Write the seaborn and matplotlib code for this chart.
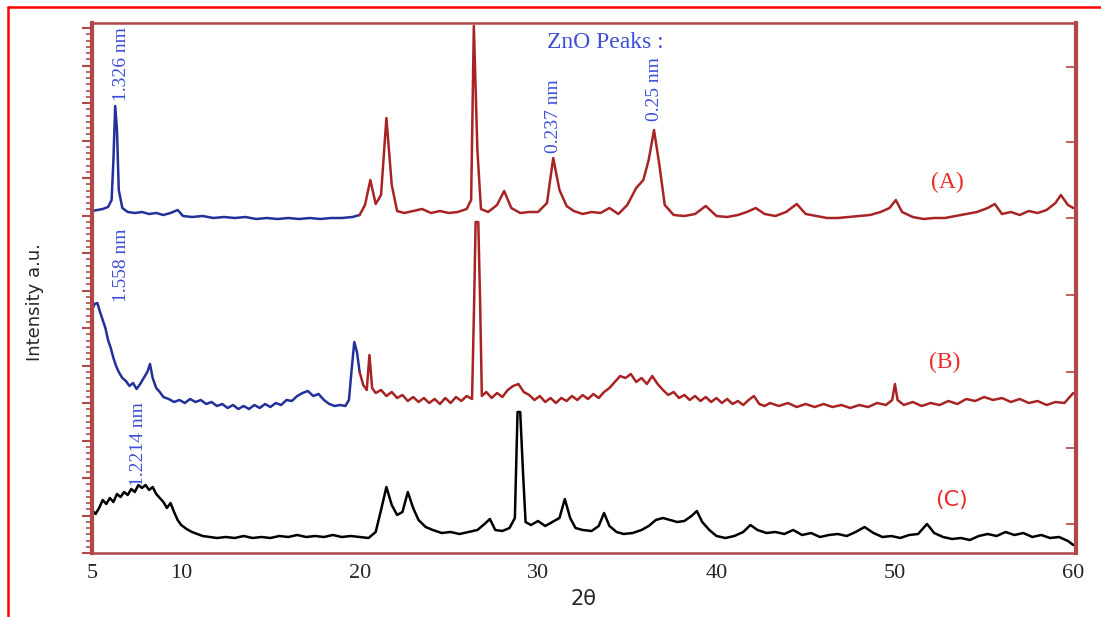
"""
XRD patterns (A), (B), (C) with ZnO peak annotations
"""

import numpy as np
import pandas as pd
import matplotlib
matplotlib.use("Agg")
import matplotlib.pyplot as plt
from matplotlib.lines import Line2D
from matplotlib.ticker import MultipleLocator, FixedLocator
import seaborn as sns

sns.set_style("white")
plt.rcParams["font.family"] = ["Liberation Serif", "DejaVu Serif"]

# ---- data (2-theta in degrees, intensity in a.u.) ----
a_blue_2theta = [5.0, 5.3, 5.6, 5.9, 6.1, 6.2, 6.3, 6.4, 6.5, 6.7, 7.0, 7.4, 7.8, 8.2, 8.6,
                 9.0, 9.4, 9.8, 10.1, 10.6, 11.2, 11.8, 12.4, 13.0, 13.6, 14.2, 14.8,
                 15.4, 16.0, 16.6, 17.2, 17.8, 18.4, 19.0, 19.6, 20.0]
a_blue_int = [342, 343, 344, 346, 353, 393, 447, 423, 363, 345, 341, 340, 341, 339, 340,
              338, 340, 343, 337, 336, 337, 335, 336, 335, 336, 334, 335,
              334, 335, 334, 335, 334, 335, 335, 336, 338]

a_red_2theta = [20.0, 20.3, 20.6, 20.9, 21.2, 21.5, 21.8, 22.1, 22.5, 23.0, 23.5, 24.0,
                24.5, 25.0, 25.5, 26.0, 26.25, 26.4, 26.6, 26.8, 27.2, 27.7, 28.1, 28.5,
                29.0, 29.5, 30.0, 30.5, 30.85, 31.2, 31.6, 32.0, 32.5, 33.0, 33.5, 34.0,
                34.5, 35.0, 35.5, 35.9, 36.2, 36.5, 36.8, 37.1, 37.6, 38.2, 38.8, 39.4,
                40.0, 40.6, 41.2, 41.7, 42.2, 42.7, 43.3, 43.9, 44.5, 45.0, 45.6, 46.2,
                46.8, 47.4, 48.0, 48.6, 49.2, 49.7, 50.05, 50.4, 51.0, 51.6, 52.2, 52.8,
                53.4, 54.0, 54.6, 55.2, 55.6, 56.0, 56.5, 57.0, 57.5, 58.0, 58.5, 59.0,
                59.3, 59.7, 60.0]
a_red_int = [338, 348, 373, 349, 358, 435, 368, 342, 340, 342, 344, 340,
             342, 340, 341, 344, 353, 527, 403, 344, 341, 348, 362, 345,
             340, 341, 341, 350, 395, 363, 347, 342, 339, 341, 340, 345,
             339, 348, 365, 373, 393, 423, 388, 348, 338, 337, 339, 347,
             337, 336, 338, 341, 345, 339, 337, 341, 349, 339, 337, 335,
             335, 336, 337, 338, 341, 345, 353, 341, 336, 334, 335, 335,
             337, 339, 341, 345, 349, 339, 341, 338, 342, 340, 343, 350,
             358, 348, 345]

b_blue_2theta = [5.0, 5.15, 5.3, 5.45, 5.6, 5.75, 5.9, 6.05, 6.2, 6.35, 6.5, 6.7, 6.9,
                 7.1, 7.3, 7.5, 7.7, 7.9, 8.1, 8.25, 8.4, 8.6, 8.8, 9.0, 9.3, 9.6, 9.9,
                 10.2, 10.5, 10.8, 11.1, 11.4, 11.7, 12.0, 12.3, 12.6, 12.9, 13.2, 13.5,
                 13.8, 14.1, 14.4, 14.7, 15.0, 15.3, 15.6, 15.9, 16.2, 16.5, 16.8, 17.1,
                 17.4, 17.7, 18.0, 18.3, 18.6, 18.9, 19.2, 19.4, 19.55, 19.7, 19.85, 20.0]
b_blue_int = [243, 249, 250, 241, 233, 225, 213, 205, 195, 187, 181, 175, 172,
              167, 170, 164, 169, 175, 181, 189, 175, 165, 161, 156, 154, 151, 153,
              150, 154, 151, 153, 149, 151, 147, 149, 145, 148, 144, 147,
              144, 148, 145, 149, 146, 150, 148, 153, 152, 157, 160, 162,
              157, 159, 153, 149, 147, 148, 147, 153, 183, 211, 201, 181]

b_red_2theta = [20.0, 20.2, 20.4, 20.55, 20.7, 20.9, 21.2, 21.5, 21.8, 22.1, 22.4, 22.7,
                23.0, 23.3, 23.6, 23.9, 24.2, 24.5, 24.8, 25.1, 25.4, 25.7, 26.0, 26.3,
                26.42, 26.5, 26.65, 26.75, 26.85, 27.1, 27.4, 27.7, 28.0, 28.3, 28.6,
                28.9, 29.2, 29.5, 29.8, 30.1, 30.4, 30.7, 31.0, 31.3, 31.6, 31.9, 32.2,
                32.5, 32.8, 33.1, 33.4, 33.7, 34.0, 34.3, 34.6, 34.9, 35.2, 35.5, 35.8,
                36.1, 36.4, 36.7, 37.0, 37.3, 37.6, 37.9, 38.2, 38.5, 38.8, 39.1, 39.4,
                39.7, 40.0, 40.3, 40.6, 40.9, 41.2, 41.5, 41.8, 42.1, 42.4, 42.7, 43.0,
                43.5, 44.0, 44.5, 45.0, 45.5, 46.0, 46.5, 47.0, 47.5, 48.0, 48.5, 49.0,
                49.5, 49.85, 50.0, 50.15, 50.5, 51.0, 51.5, 52.0, 52.5, 53.0, 53.5, 54.0,
                54.5, 55.0, 55.5, 56.0, 56.5, 57.0, 57.5, 58.0, 58.5, 59.0, 59.5, 59.8,
                60.0]
b_red_int = [181, 168, 163, 198, 165, 160, 163, 157, 161, 155, 158, 152,
             156, 151, 155, 150, 154, 149, 155, 150, 156, 152, 157, 154,
             253, 331, 331, 253, 157, 161, 155, 160, 156, 163, 167,
             169, 161, 158, 153, 157, 151, 155, 150, 155, 152, 157, 153,
             158, 154, 159, 155, 161, 165, 171, 177, 175, 179, 171, 175,
             169, 177, 169, 163, 158, 161, 155, 158, 153, 157, 152, 156,
             151, 155, 150, 154, 149, 152, 148, 153, 157, 149, 147, 150,
             147, 150, 146, 149, 146, 149, 146, 148, 145, 148, 146, 150,
             148, 153, 169, 153, 148, 151, 147, 150, 148, 152, 149, 154,
             152, 156, 153, 155, 151, 154, 150, 152, 148, 151, 150, 156,
             160]

c_2theta = [5.0, 5.2, 5.4, 5.6, 5.8, 6.0, 6.2, 6.4, 6.6, 6.8, 7.0, 7.2, 7.4, 7.6, 7.8,
            8.0, 8.2, 8.4, 8.6, 8.8, 9.0, 9.2, 9.4, 9.6, 9.8, 10.0, 10.3, 10.6, 10.9,
            11.2, 11.6, 12.0, 12.5, 13.0, 13.5, 14.0, 14.5, 15.0, 15.5, 16.0, 16.5,
            17.0, 17.5, 18.0, 18.5, 19.0, 19.5, 20.0, 20.5, 20.9, 21.2, 21.5, 21.8,
            22.1, 22.4, 22.7, 23.0, 23.3, 23.7, 24.1, 24.6, 25.1, 25.6, 26.1, 26.6,
            27.0, 27.3, 27.6, 28.0, 28.4, 28.7, 28.85, 29.0, 29.15, 29.3, 29.6, 30.0,
            30.4, 30.8, 31.2, 31.5, 31.8, 32.1, 32.5, 33.0, 33.4, 33.7, 34.0, 34.4,
            34.8, 35.3, 35.8, 36.2, 36.6, 37.0, 37.4, 37.8, 38.2, 38.6, 38.9, 39.2,
            39.6, 40.0, 40.5, 41.0, 41.5, 41.9, 42.3, 42.8, 43.3, 43.8, 44.3, 44.8,
            45.3, 45.8, 46.3, 46.8, 47.3, 47.8, 48.3, 48.8, 49.3, 49.8, 50.3, 50.8,
            51.3, 51.8, 52.2, 52.7, 53.2, 53.7, 54.2, 54.7, 55.2, 55.7, 56.2, 56.7,
            57.2, 57.7, 58.2, 58.7, 59.2, 59.7, 60.0]
c_int = [43, 39, 45, 53, 49, 55, 51, 59, 56, 61, 58, 64, 61, 68, 65,
         68, 63, 66, 59, 55, 51, 45, 50, 41, 33, 28, 24, 21, 19,
         17, 16, 15, 16, 15, 17, 15, 16, 15, 17, 16, 18,
         16, 17, 16, 18, 16, 17, 16, 15, 21, 43, 66, 48,
         38, 41, 61, 45, 33, 26, 23, 20, 21, 19, 21, 23,
         29, 34, 23, 22, 25, 35, 141, 141, 83, 31, 28, 32,
         27, 31, 35, 54, 35, 25, 23, 22, 27, 40, 27, 21,
         19, 20, 23, 27, 33, 35, 33, 31, 32, 37, 42, 31,
         23, 17, 15, 17, 21, 28, 23, 20, 21, 19, 23, 18,
         20, 16, 18, 19, 17, 21, 26, 20, 16, 17, 15, 18,
         19, 29, 20, 16, 14, 15, 13, 17, 19, 17, 21, 18,
         20, 16, 18, 15, 16, 12, 8]

x_ticks = [5, 10, 20, 30, 40, 50, 60]

# ---- colours ----
BLUE_LINE = "#23309a"
RED_LINE = "#a82424"
BLUE_TEXT = "#3d4fd6"
RED_TEXT = "#ec2a2a"
SPINE = "#b04848"

fig = plt.figure(figsize=(11.01, 6.17), dpi=100)
ax = fig.add_axes([92 / 1101, 64 / 617, 984 / 1101, 530 / 617])

segments = [
    (a_blue_2theta, a_blue_int, BLUE_LINE),
    (a_red_2theta, a_red_int, RED_LINE),
    (b_blue_2theta, b_blue_int, BLUE_LINE),
    (b_red_2theta, b_red_int, RED_LINE),
    (c_2theta, c_int, "black"),
]
for xs, ys, col in segments:
    df = pd.DataFrame({"two_theta": xs, "intensity": ys})
    sns.lineplot(data=df, x="two_theta", y="intensity", color=col, lw=1.8,
                 estimator=None, sort=False, ax=ax)

ax.set_xlim(5, 60.15)
ax.set_ylim(0, 530)
ax.set_xticks(x_ticks)
ax.xaxis.set_minor_locator(MultipleLocator(1))
ax.set_xticklabels([str(t) for t in x_ticks], fontsize=16)
ax.tick_params(axis="x", which="major", direction="out", length=4, color=SPINE, pad=4)
ax.tick_params(axis="x", which="minor", direction="out", length=2, color=SPINE)
ax.yaxis.set_major_locator(MultipleLocator(37.5))
ax.yaxis.set_minor_locator(MultipleLocator(6.25))
ax.tick_params(axis="y", which="major", direction="out", length=7, width=1.5,
               color=SPINE, labelleft=False)
ax.tick_params(axis="y", which="minor", direction="out", length=4, width=1.2, color=SPINE)
ax.set_xlabel("2θ", fontsize=15, family=["DejaVu Sans"], labelpad=4)
ax.set_ylabel("")

for side, w in [("left", 3.0), ("right", 3.0), ("top", 1.8), ("bottom", 1.8)]:
    ax.spines[side].set_visible(True)
    ax.spines[side].set_color(SPINE)
    ax.spines[side].set_linewidth(w)

# inward ticks on the right spine
ax2 = ax.twinx()
ax2.set_ylim(0, 530)
ax2.yaxis.set_major_locator(FixedLocator([29, 105, 181, 258, 335, 411, 486]))
ax2.tick_params(axis="y", direction="in", length=7, width=1.2, color=SPINE, labelright=False)
for s in ax2.spines.values():
    s.set_visible(False)

fig.text(35 / 1101, 1 - 302 / 617, "Intensity a.u.", rotation=90, ha="center", va="center",
         fontsize=13, family=["Liberation Sans Narrow", "DejaVu Sans"])

# peak labels
vlabels = [
    ("1.326 nm", 6.63, 489),
    ("1.558 nm", 6.63, 288),
    ("1.2214 nm", 7.58, 109),
    ("0.237 nm", 30.84, 437),
    ("0.25 nm", 36.5, 464),
]
for txt, x, y in vlabels:
    ax.text(x, y, txt, rotation=90, ha="center", va="center", fontsize=14, color=BLUE_TEXT)

ax.text(33.76, 510, "ZnO Peaks :", ha="center", va="center", fontsize=17, color=BLUE_TEXT)
ax.text(52.93, 371, "(A)", ha="center", va="center", fontsize=17, color=RED_TEXT)
ax.text(52.8, 191, "(B)", ha="center", va="center", fontsize=17, color=RED_TEXT)
ax.text(53.2, 53, "(C)", ha="center", va="center", fontsize=16, color=RED_TEXT,
        family=["DejaVu Sans"])

# bright red outer frame (top and left edges)
fig.add_artist(Line2D([8 / 1101, 1.0], [1 - 7 / 617, 1 - 7 / 617], color="#ff0000", lw=1.8))
fig.add_artist(Line2D([8 / 1101, 8 / 1101], [0.0, 1 - 7 / 617], color="#ff0000", lw=1.8))

fig.savefig("out.png", dpi=100)
